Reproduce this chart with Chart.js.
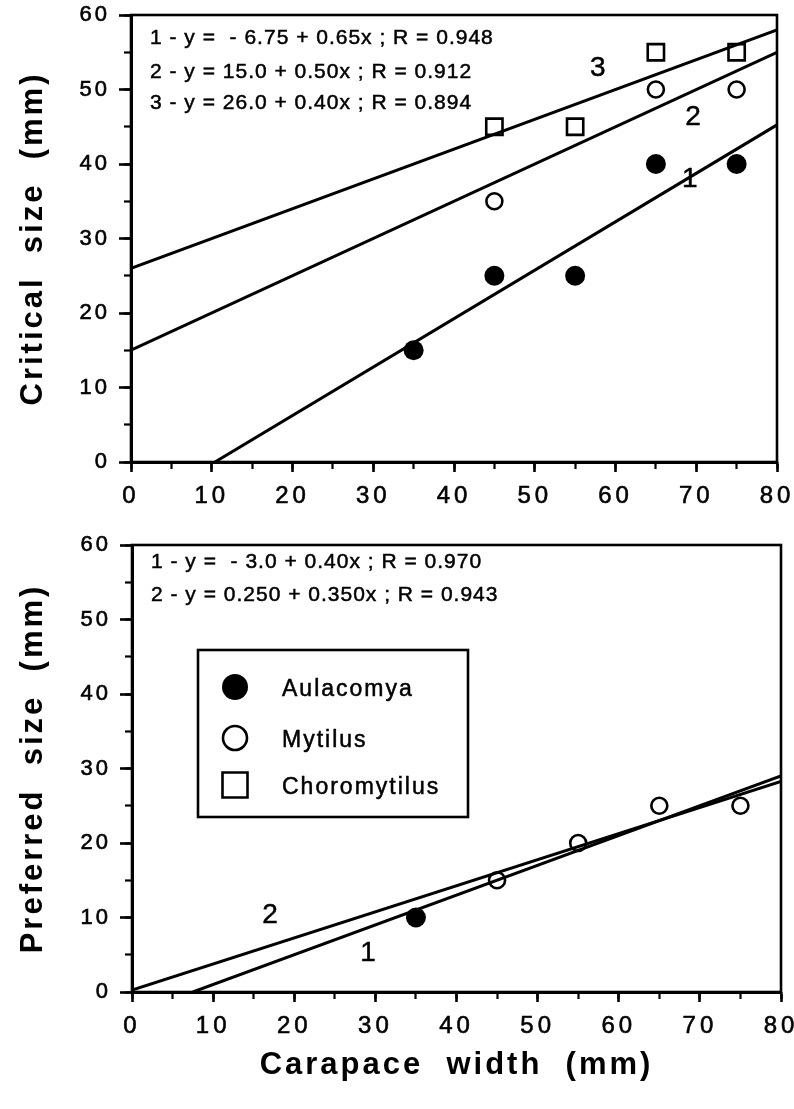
<!DOCTYPE html>
<html>
<head>
<meta charset="utf-8">
<script src="https://cdn.jsdelivr.net/npm/chart.js@4.4.1/dist/chart.umd.min.js"></script>
<style>
  html, body { margin: 0; padding: 0; background: #fff; }
  #page { position: relative; width: 794px; height: 1109px; }
  canvas { position: absolute; left: 0; }
  #critical { top: 0; }
  #preferred { top: 520px; }
</style>
</head>
<body>
<div id="page">
  <canvas id="critical" width="794" height="520"></canvas>
  <canvas id="preferred" width="794" height="589"></canvas>
</div>
<script>
// ---- data ----
const species = ['Aulacomya', 'Mytilus', 'Choromytilus'];

const xTicks = [0, 10, 20, 30, 40, 50, 60, 70, 80];
const xMinorTicks = [0, 5, 10, 15, 20, 25, 30, 35, 40, 45, 50, 55, 60, 65, 70, 75, 80];
const yTicks = [0, 10, 20, 30, 40, 50, 60];
const yMinorTicks = [0, 5, 10, 15, 20, 25, 30, 35, 40, 45, 50, 55, 60];

// critical size (upper panel)
const critAulacomyaX = [35, 45, 55, 65, 75];
const critAulacomyaY = [15, 25, 25, 40, 40];
const critMytilusX = [45, 65, 75];
const critMytilusY = [35, 50, 50];
const critChoroX = [45, 55, 65, 75];
const critChoroY = [45, 45, 55, 55];

// regression lines, end points
const critFit1X = [10.4, 80], critFit1Y = [0, 45.25];
const critFit2X = [0, 80], critFit2Y = [15, 55];
const critFit3X = [0, 80], critFit3Y = [26, 58];

const critEquations = [
  '1 - y =  - 6.75 + 0.65x ; R = 0.948',
  '2 - y = 15.0 + 0.50x ; R = 0.912',
  '3 - y = 26.0 + 0.40x ; R = 0.894'
];

// preferred size (lower panel)
const prefAulacomyaX = [35];
const prefAulacomyaY = [10];
const prefMytilusX = [45, 55, 65, 75];
const prefMytilusY = [15, 20, 25, 25];

const prefFit1X = [7.5, 80], prefFit1Y = [0, 29];
const prefFit2X = [0, 80], prefFit2Y = [0.25, 28.25];

const prefEquations = [
  '1 - y =  - 3.0 + 0.40x ; R = 0.970',
  '2 - y = 0.250 + 0.350x ; R = 0.943'
];

const FONT = '"Liberation Sans", Arial, Helvetica, sans-serif';

function pts(xs, ys) {
  return xs.map((x, i) => ({ x: x, y: ys[i] }));
}

// canvas letter spacing for the old typewriter-ish look
function spaceOut(scale, method, px) {
  const orig = scale[method];
  if (!orig || orig._spaced) return;
  const fn = function () {
    this.ctx.save();
    this.ctx.letterSpacing = px + 'px';
    orig.apply(this, arguments);
    this.ctx.restore();
  };
  fn._spaced = true;
  scale[method] = fn;
}

// no extra room for overhanging tick labels, the frame is fixed
function noOverhang(s) {
  s.paddingLeft = 0; s.paddingRight = 0;
  s.paddingTop = 0; s.paddingBottom = 0;
}

function fitLine(xs, ys) {
  return {
    data: pts(xs, ys), showLine: true, pointRadius: 0, pointHoverRadius: 0,
    borderColor: '#000', borderWidth: 3, xAxisID: 'x', yAxisID: 'y'
  };
}

function speciesSet(idx, xs, ys) {
  const styles = [
    { pointStyle: 'circle', pointRadius: 10, backgroundColor: '#000', borderColor: '#000', borderWidth: 0 },
    { pointStyle: 'circle', pointRadius: 8, backgroundColor: '#fff', borderColor: '#000', borderWidth: 2.6 },
    { pointStyle: 'rect', pointRadius: 11.5, backgroundColor: '#fff', borderColor: '#000', borderWidth: 2.6 }
  ];
  const s = styles[idx];
  return Object.assign({
    label: species[idx], legend: true, data: pts(xs, ys), showLine: false,
    pointBackgroundColor: s.backgroundColor, pointBorderColor: s.borderColor,
    pointBorderWidth: s.borderWidth, pointHoverRadius: s.pointRadius,
    xAxisID: 'x', yAxisID: 'y'
  }, s);
}

function makeScales(cfg) {
  return {
    x: {
      type: 'linear', position: 'bottom', weight: 1, min: 0, max: 80,
      afterBuildTicks: s => { s.ticks = xTicks.map(v => ({ value: v })); },
      ticks: {
        color: '#000', padding: 10, maxRotation: 0, autoSkip: false,
        font: { family: FONT, size: 24 }, textStrokeColor: '#000', textStrokeWidth: 0.6
      },
      grid: { drawOnChartArea: false, tickLength: 10, tickWidth: 2.6, tickColor: '#000' },
      border: { display: true, color: '#000', width: 3 },
      title: cfg.xTitle ? {
        display: true, text: cfg.xTitle, color: '#000',
        font: { family: FONT, size: 31, weight: 'bold' }, padding: { top: 0, bottom: 25 }
      } : { display: false },
      afterFit: s => { s.height = cfg.xHeight; noOverhang(s); }
    },
    xMinor: {
      type: 'linear', position: 'bottom', weight: 0, min: 0, max: 80,
      afterBuildTicks: s => { s.ticks = xMinorTicks.map(v => ({ value: v })); },
      ticks: { display: false },
      grid: { drawOnChartArea: false, tickLength: 7, tickWidth: 2.2, tickColor: '#000' },
      border: { display: false },
      afterFit: s => { s.height = 0; noOverhang(s); }
    },
    y: {
      type: 'linear', position: 'left', weight: 1, min: 0, max: 60,
      afterBuildTicks: s => { s.ticks = yTicks.map(v => ({ value: v })); },
      ticks: {
        color: '#000', padding: 9,
        font: { family: FONT, size: 22 }, textStrokeColor: '#000', textStrokeWidth: 0.6
      },
      grid: { drawOnChartArea: false, tickLength: 12, tickWidth: 2.6, tickColor: '#000' },
      border: { display: true, color: '#000', width: 3 },
      title: {
        display: true, text: cfg.yTitle, color: '#000',
        font: { family: FONT, size: 31, weight: 'bold' }, padding: { top: 15, bottom: 0 }
      },
      afterFit: s => { s.width = cfg.yWidth; noOverhang(s); }
    },
    yMinor: {
      type: 'linear', position: 'left', weight: 0, min: 0, max: 60,
      afterBuildTicks: s => { s.ticks = yMinorTicks.map(v => ({ value: v })); },
      ticks: { display: false },
      grid: { drawOnChartArea: false, tickLength: 7, tickWidth: 2.2, tickColor: '#000' },
      border: { display: false },
      afterFit: s => { s.width = 0; noOverhang(s); }
    }
  };
}

// frame, equations and line numbers drawn on top of the plot
function paperPlugin(notes) {
  return {
    id: 'paper',
    beforeDraw(chart) {
      spaceOut(chart.scales.x, 'drawLabels', 4);
      spaceOut(chart.scales.x, 'drawTitle', 3);
      spaceOut(chart.scales.y, 'drawLabels', 3);
      spaceOut(chart.scales.y, 'drawTitle', 3);
    },
    afterDraw(chart) {
      const { ctx, chartArea: a, scales } = chart;
      ctx.save();
      ctx.strokeStyle = '#000';
      ctx.lineWidth = 2.6;
      ctx.strokeRect(a.left, a.top, a.right - a.left, a.bottom - a.top);

      ctx.fillStyle = '#000';
      ctx.textBaseline = 'middle';
      ctx.textAlign = 'left';
      ctx.font = '21px ' + FONT;
      ctx.letterSpacing = '1px';
      ctx.lineWidth = 0.5;
      notes.equations.forEach((t, i) => {
        ctx.strokeText(t, a.left + 19, notes.eqY[i]);
        ctx.fillText(t, a.left + 19, notes.eqY[i]);
      });

      ctx.textAlign = 'center';
      ctx.font = '28px ' + FONT;
      ctx.letterSpacing = '0px';
      notes.numbers.forEach(n => {
        const px = scales.x.getPixelForValue(n.x), py = scales.y.getPixelForValue(n.y);
        ctx.strokeText(n.text, px, py);
        ctx.fillText(n.text, px, py);
      });
      ctx.restore();
    }
  };
}

// boxed legend inside the lower panel
const legendBoxPlugin = {
  id: 'legendBox',
  afterDraw(chart) {
    const { ctx, chartArea: a } = chart;
    const left = a.left + 66, top = a.top + 105, w = 270, h = 167;
    const rows = [37, 88, 135];
    const items = chart.data.datasets.filter(d => d.legend);
    ctx.save();
    ctx.fillStyle = '#fff';
    ctx.fillRect(left, top, w, h);
    ctx.strokeStyle = '#000';
    ctx.lineWidth = 2.6;
    ctx.strokeRect(left, top, w, h);
    items.forEach((d, i) => {
      const cx = left + 37, cy = top + rows[i];
      ctx.beginPath();
      if (d.pointStyle === 'rect') {
        ctx.rect(cx - 12.5, cy - 12.5, 25, 25);
      } else {
        ctx.arc(cx, cy, d.borderWidth ? 12 : 13, 0, Math.PI * 2);
      }
      ctx.fillStyle = d.backgroundColor;
      ctx.fill();
      if (d.borderWidth) {
        ctx.lineWidth = d.borderWidth;
        ctx.strokeStyle = d.borderColor;
        ctx.stroke();
      }
      ctx.fillStyle = '#000';
      ctx.strokeStyle = '#000';
      ctx.lineWidth = 0.5;
      ctx.font = '23px ' + FONT;
      ctx.letterSpacing = '2px';
      ctx.textAlign = 'left';
      ctx.textBaseline = 'middle';
      ctx.strokeText(d.label, left + 84, cy + 3);
      ctx.fillText(d.label, left + 84, cy + 3);
    });
    ctx.restore();
  }
};

const baseOptions = (layoutPad, scales) => ({
  responsive: false,
  animation: false,
  events: [],
  layout: { padding: layoutPad },
  plugins: { legend: { display: false }, tooltip: { enabled: false } },
  scales: scales
});

new Chart(document.getElementById('critical'), {
  type: 'scatter',
  data: {
    datasets: [
      fitLine(critFit1X, critFit1Y),
      fitLine(critFit2X, critFit2Y),
      fitLine(critFit3X, critFit3Y),
      speciesSet(0, critAulacomyaX, critAulacomyaY),
      speciesSet(1, critMytilusX, critMytilusY),
      speciesSet(2, critChoroX, critChoroY)
    ]
  },
  options: baseOptions({ top: 15, right: 17, left: 0, bottom: 0 },
    makeScales({ yTitle: 'Critical  size  (mm)', xHeight: 58, yWidth: 131 })),
  plugins: [paperPlugin({
    equations: critEquations,
    eqY: [38, 72, 103],
    numbers: [
      { text: '3', x: 57.8, y: 52.9 },
      { text: '2', x: 69.6, y: 46.3 },
      { text: '1', x: 69.2, y: 37.9 }
    ]
  })]
});

new Chart(document.getElementById('preferred'), {
  type: 'scatter',
  data: {
    datasets: [
      fitLine(prefFit1X, prefFit1Y),
      fitLine(prefFit2X, prefFit2Y),
      speciesSet(0, prefAulacomyaX, prefAulacomyaY),
      speciesSet(1, prefMytilusX, prefMytilusY),
      speciesSet(2, [], [])
    ]
  },
  options: baseOptions({ top: 25, right: 13, left: 0, bottom: 0 },
    makeScales({ yTitle: 'Preferred  size  (mm)', xTitle: 'Carapace  width  (mm)', xHeight: 117, yWidth: 132 })),
  plugins: [paperPlugin({
    equations: prefEquations,
    eqY: [42, 75],
    numbers: [
      { text: '2', x: 17.0, y: 10.3 },
      { text: '1', x: 29.1, y: 5.2 }
    ]
  }), legendBoxPlugin]
});
</script>
</body>
</html>
